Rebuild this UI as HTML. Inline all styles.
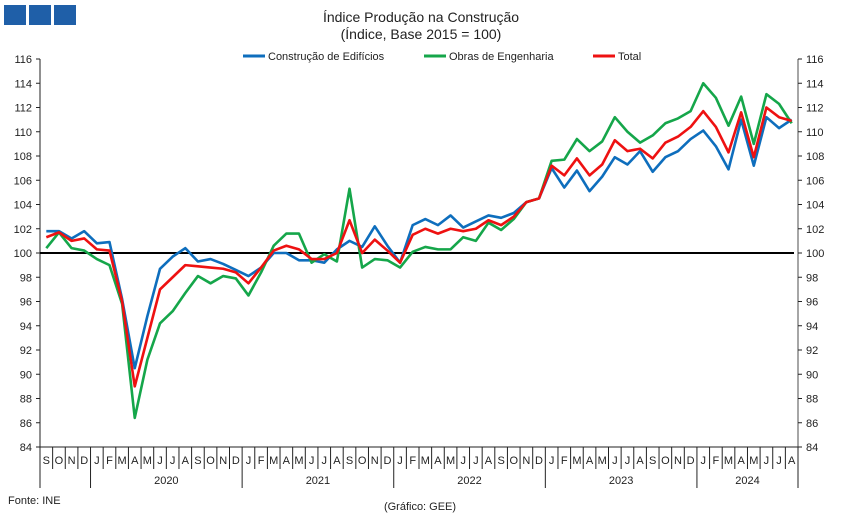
<!DOCTYPE html>
<html><head><meta charset="utf-8"><style>
body{margin:0;background:#fff;}
svg{display:block;font-family:"Liberation Sans",sans-serif;}
</style></head><body>
<svg id="c" width="843" height="518">
<rect x="4" y="5" width="22" height="20" fill="#1f5fa8"/>
<rect x="29" y="5" width="22" height="20" fill="#1f5fa8"/>
<rect x="54" y="5" width="22" height="20" fill="#1f5fa8"/>
<text x="421" y="22" text-anchor="middle" font-size="14" fill="#222">Índice Produção na Construção</text>
<text x="421" y="39" text-anchor="middle" font-size="14" fill="#222">(Índice, Base 2015 = 100)</text>
<g font-size="11" fill="#222">
<line x1="243" y1="56" x2="265" y2="56" stroke="#0e6ebd" stroke-width="3"/>
<text x="268" y="60">Construção de Edifícios</text>
<line x1="424" y1="56" x2="446" y2="56" stroke="#15a64a" stroke-width="3"/>
<text x="449" y="60">Obras de Engenharia</text>
<line x1="593" y1="56" x2="615" y2="56" stroke="#ee1111" stroke-width="3"/>
<text x="618" y="60">Total</text>
</g>
<g id="axes"></g>
<g id="series"></g>
<text x="8" y="504" font-size="11" fill="#222">Fonte: INE</text>
<text x="420" y="510" text-anchor="middle" font-size="11" fill="#222">(Gráfico: GEE)</text>
</svg>
<script>
const months = ["S","O","N","D","J","F","M","A","M","J","J","A","S","O","N","D","J","F","M","A","M","J","J","A","S","O","N","D","J","F","M","A","M","J","J","A","S","O","N","D","J","F","M","A","M","J","J","A","S","O","N","D","J","F","M","A","M","J","J","A"];
const years = ["2020","2021","2022","2023","2024"];
const yTicks = [84,86,88,90,92,94,96,98,100,102,104,106,108,110,112,114,116];
const construcao = [101.8,101.8,101.2,101.8,100.8,100.9,96.2,90.5,94.8,98.7,99.7,100.4,99.3,99.5,99.1,98.6,98.1,98.8,100.0,100.0,99.4,99.4,99.2,100.3,101.0,100.5,102.2,100.6,99.2,102.3,102.8,102.3,103.1,102.1,102.6,103.1,102.9,103.3,104.2,104.5,107.0,105.4,106.8,105.1,106.3,107.9,107.3,108.4,106.7,107.9,108.4,109.4,110.1,108.8,106.9,111.0,107.2,111.2,110.3,111.0];
const obras = [100.4,101.7,100.4,100.2,99.5,99.0,95.8,86.4,91.2,94.2,95.2,96.7,98.1,97.5,98.1,97.9,96.5,98.4,100.6,101.6,101.6,99.2,99.9,99.3,105.3,98.8,99.5,99.4,98.8,100.1,100.5,100.3,100.3,101.3,101.0,102.5,101.9,102.8,104.2,104.5,107.6,107.7,109.4,108.4,109.2,111.2,110.0,109.1,109.7,110.7,111.1,111.7,114.0,112.8,110.5,112.9,109.0,113.1,112.3,110.7];
const total = [101.3,101.7,101.0,101.2,100.3,100.2,96.0,89.0,93.0,97.0,98.0,99.0,98.9,98.8,98.7,98.4,97.5,98.8,100.2,100.6,100.3,99.5,99.5,100.0,102.7,100.0,101.1,100.2,99.2,101.5,102.0,101.6,102.0,101.8,102.0,102.7,102.3,103.0,104.2,104.5,107.2,106.4,107.8,106.4,107.3,109.3,108.4,108.6,107.8,109.1,109.6,110.4,111.7,110.4,108.3,111.6,107.9,112.0,111.2,110.9];

const NS="http://www.w3.org/2000/svg";
const L=40,R=798,T=59,B=447,ymin=84,ymax=116;
const step=(R-L)/months.length;
const xS=i=>L+step*(i+0.5);
const yS=v=>B-(v-ymin)/(ymax-ymin)*(B-T);
function mk(tag,attrs,parent,txt){const e=document.createElementNS(NS,tag);for(const k in attrs)e.setAttribute(k,attrs[k]);if(txt!==undefined)e.textContent=txt;parent.appendChild(e);return e;}
const ax=document.getElementById('axes');
let e=mk('line',{x1:L,y1:T,x2:L,y2:B,stroke:'#222','stroke-width':1},ax);


e=mk('line',{x1:R,y1:T,x2:R,y2:B,stroke:'#888','stroke-width':1.5},ax);


e=mk('line',{x1:L,y1:B,x2:R,y2:B,stroke:'#222','stroke-width':1},ax);


yTicks.forEach(v=>{
  const y=yS(v);
  mk('line',{x1:L-4,y1:y,x2:L,y2:y,stroke:'#222'},ax);
  mk('line',{x1:R,y1:y,x2:R+4,y2:y,stroke:'#222'},ax);
  let t=mk('text',{x:L-8,y:y+4,'text-anchor':'end','font-size':11,fill:'#222'},ax,v);
  
  
  t=mk('text',{x:R+8,y:y+4,'font-size':11,fill:'#222'},ax,v);
  
  
});
months.forEach((m,i)=>{
  const x0=L+step*i;
  const isYear=(i===0||(i-4)%12===0);
  mk('line',{x1:x0,y1:B,x2:x0,y2:isYear?488:469,stroke:'#222'},ax);
  const t=mk('text',{x:xS(i),y:464,'text-anchor':'middle','font-size':11,fill:'#222'},ax,m);
  
  
});
mk('line',{x1:R,y1:B,x2:R,y2:488,stroke:'#222'},ax);
years.forEach((yr,k)=>{
  const s=4+12*k,eI=Math.min(s+12,months.length);
  const t=mk('text',{x:L+step*(s+eI)/2,y:484,'text-anchor':'middle','font-size':11,fill:'#222'},ax,yr);
  
  
});
e=mk('line',{x1:L,y1:yS(100),x2:R-4,y2:yS(100),stroke:'#000','stroke-width':2},ax);


const sg=document.getElementById('series');
[[construcao,'#0e6ebd','line-construcao'],[obras,'#15a64a','line-obras'],[total,'#ee1111','line-total']].forEach(([d,c,n])=>{
  const p=mk('polyline',{points:d.map((v,i)=>xS(i)+','+yS(v)).join(' '),fill:'none',stroke:c,'stroke-width':2.6,'stroke-linejoin':'round'},sg);
  
  
});
</script>
</body></html>
